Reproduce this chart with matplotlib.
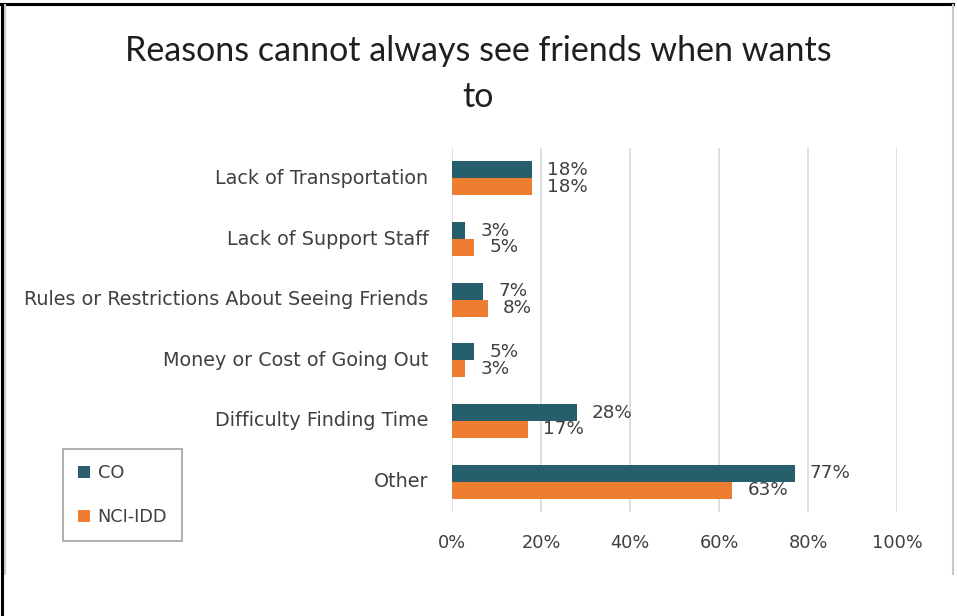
import matplotlib
matplotlib.use("Agg")
import matplotlib.pyplot as plt
from matplotlib.lines import Line2D
from matplotlib.patches import Patch
import numpy as np

categories = [
    "Lack of Transportation",
    "Lack of Support Staff",
    "Rules or Restrictions About Seeing Friends",
    "Money or Cost of Going Out",
    "Difficulty Finding Time",
    "Other",
]
co_values = [18, 3, 7, 5, 28, 77]
nci_values = [18, 5, 8, 3, 17, 63]
series_names = ["CO", "NCI-IDD"]
x_ticks = [0, 20, 40, 60, 80, 100]
title = "Reasons cannot always see friends when wants\nto"

CO_COLOR = "#265E6C"
NCI_COLOR = "#ED7D31"
TEXT = "#404040"
GRID = "#D9D9D9"

W, H = 957, 616
fig = plt.figure(figsize=(W / 100, H / 100), dpi=100)
fig.patch.set_facecolor("white")

# plot area in pixel coordinates
left, right, top, bottom = 452, 897, 148, 512
ax = fig.add_axes([left / W, 1 - bottom / H, (right - left) / W, (bottom - top) / H])

y = np.arange(len(categories))
bh = 0.28
ax.barh(y - bh / 2, co_values, height=bh, color=CO_COLOR, label=series_names[0])
ax.barh(y + bh / 2, nci_values, height=bh, color=NCI_COLOR, label=series_names[1])

lab_font = dict(family="DejaVu Sans", fontsize=13.2, color=TEXT)
for yi, v in zip(y, co_values):
    ax.annotate(f"{v}%", (v, yi - bh / 2), xytext=(15, 0), textcoords="offset pixels",
                va="center", ha="left", **lab_font)
for yi, v in zip(y, nci_values):
    ax.annotate(f"{v}%", (v, yi + bh / 2), xytext=(15, 0), textcoords="offset pixels",
                va="center", ha="left", **lab_font)

ax.set_xlim(0, 100)
ax.set_ylim(len(categories) - 0.5, -0.5)
ax.set_xticks(x_ticks)
ax.set_xticklabels([f"{t}%" for t in x_ticks], family="DejaVu Sans", fontsize=12.8, color=TEXT)
ax.set_yticks(y)
ax.set_yticklabels(categories, family="DejaVu Sans", fontsize=13.8, color=TEXT, va="center")
ax.tick_params(axis="x", length=0, pad=16)
ax.tick_params(axis="y", length=0, pad=17)
ax.grid(axis="x", color=GRID, linewidth=1.2)
ax.set_axisbelow(True)
for s in ax.spines.values():
    s.set_visible(False)

fig.text(478 / W, 1 - 74 / H, title, ha="center", va="center",
         family="Lato", fontsize=24.5, color="#1F1F1F", linespacing=1.55)

handles = [Patch(facecolor=CO_COLOR, label=series_names[0]),
           Patch(facecolor=NCI_COLOR, label=series_names[1])]
leg = fig.legend(handles=handles, loc="upper left",
                 bbox_to_anchor=(63 / W, 1 - 449 / H), bbox_transform=fig.transFigure,
                 prop=dict(family="DejaVu Sans", size=12.8), labelcolor=TEXT,
                 frameon=True, fancybox=False, edgecolor="#8C8C8C",
                 handlelength=0.65, handleheight=0.65, handletextpad=0.45,
                 labelspacing=1.45, borderpad=0.85, borderaxespad=0)
leg.get_frame().set_linewidth(1.2)

# frame lines around the chart
fig.add_artist(Line2D([1.5 / W, 1.5 / W], [0, 1 - 4 / H], color="black", lw=2.2,
                      transform=fig.transFigure))
fig.add_artist(Line2D([0, 953 / W], [1 - 4 / H, 1 - 4 / H], color="black", lw=2.2,
                      transform=fig.transFigure))
fig.add_artist(Line2D([4.5 / W, 4.5 / W], [1 - 5 / H, 1 - 574 / H], color="#C8C8C8", lw=1.5,
                      transform=fig.transFigure))
fig.add_artist(Line2D([953 / W, 953 / W], [1 - 5 / H, 1 - 574 / H], color="#C8C8C8", lw=1.5,
                      transform=fig.transFigure))

fig.savefig("out.png", dpi=100)
